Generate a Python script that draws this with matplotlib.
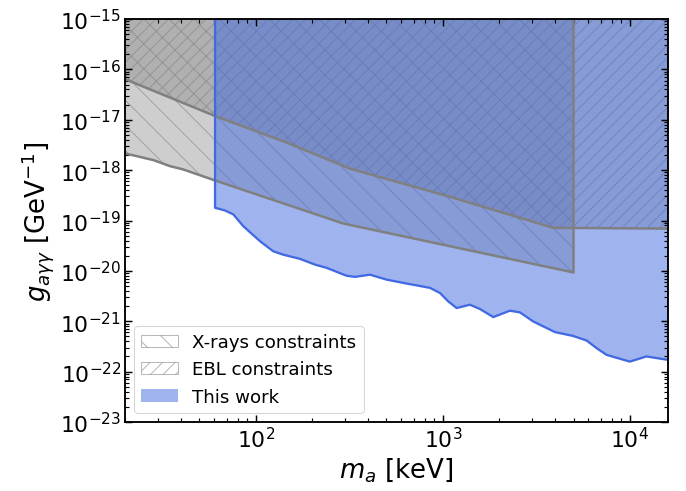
import matplotlib
matplotlib.use('Agg')
import matplotlib.pyplot as plt
from matplotlib.ticker import LogLocator, NullFormatter

# X-ray bound (lower edge of the excluded band), ends at 5000 keV
m_xray = [20, 28.4, 34.8, 41, 60.5, 294, 5000]
g_xray = [2.15e-18, 1.58e-18, 1.2e-18, 1.03e-18, 6.25e-19, 8.7e-20, 9.3e-21]

# EBL bound (lower edge), runs to the right end
m_ebl = [20, 60.5, 146.5, 319, 1092, 3890, 16000]
g_ebl = [6.4e-17, 1.19e-17, 3.52e-18, 1.07e-18, 2.96e-19, 7.16e-20, 6.9e-20]

# this work
m_this = [60.6, 68.5, 75.9, 85.8, 105.5, 124, 140, 172.5, 207.5, 239, 306, 340,
          408, 501, 641, 854, 966, 1069, 1186, 1396, 1580, 1862, 2285, 2585,
          3044, 3975, 4980, 5870, 6640, 7510, 10000, 12270, 16000]
g_this = [1.79e-19, 1.58e-19, 1.32e-19, 7.7e-20, 3.87e-20, 2.45e-20, 2.1e-20,
          1.73e-20, 1.33e-20, 1.15e-20, 8.0e-21, 7.6e-21, 8.4e-21, 6.7e-21,
          5.6e-21, 4.6e-21, 3.64e-21, 2.48e-21, 1.83e-21, 2.13e-21, 1.75e-21,
          1.21e-21, 1.62e-21, 1.5e-21, 9.9e-22, 6.1e-22, 5.1e-22, 4.15e-22,
          2.93e-22, 2.15e-22, 1.58e-22, 2.0e-22, 1.71e-22]

g_top = 1e-15
g_bottom = 1e-23
m_left, m_right = 20, 16000

fig = plt.figure(figsize=(686 / 75, 492 / 75), dpi=75)
ax = fig.add_axes([125 / 686, 1 - 423 / 492, 543 / 686, 403 / 492])

# grey shaded regions
ax.fill_between(m_xray, g_xray, g_top, facecolor='grey', alpha=0.38, lw=0)
ax.fill_between(m_ebl, g_ebl, g_top, facecolor='grey', alpha=0.38, lw=0)
ax.fill_between(m_xray, g_xray, g_top, facecolor='none', hatch='\\',
                edgecolor=(0.5, 0.5, 0.5, 0.55), lw=1, label='X-rays constraints')
ax.fill_between(m_ebl, g_ebl, g_top, facecolor='none', hatch='//',
                edgecolor=(0.5, 0.5, 0.5, 0.55), lw=1, label='EBL constraints')

# this work
ax.fill_between(m_this, g_this, g_top, facecolor='royalblue', alpha=0.5, lw=0,
                label='This work')

# boundary lines
ax.plot(m_xray + [m_xray[-1]], g_xray + [g_top], color='grey', lw=2.4)
ax.plot(m_ebl, g_ebl, color='grey', lw=2.4)
ax.plot([m_this[0]] + m_this, [g_top] + g_this, color='royalblue', lw=2.2,
        solid_joinstyle='round')

ax.set_xscale('log')
ax.set_yscale('log')
ax.set_xlim(m_left, m_right)
ax.set_ylim(g_bottom, g_top)

ax.yaxis.set_major_locator(LogLocator(base=10, numticks=20))
ax.yaxis.set_minor_locator(LogLocator(base=10, subs=range(2, 10), numticks=200))
ax.yaxis.set_minor_formatter(NullFormatter())
ax.xaxis.set_minor_locator(LogLocator(base=10, subs=range(2, 10), numticks=200))
ax.xaxis.set_minor_formatter(NullFormatter())

ax.tick_params(which='both', direction='in', top=True, right=True, labelsize=21)
ax.tick_params(which='major', length=6.7, width=1.4)
ax.tick_params(which='minor', length=3.4, width=1.1)
for s in ax.spines.values():
    s.set_linewidth(1.8)

ax.set_xlabel(r'$m_a$ [keV]', fontsize=25)
ax.set_ylabel(r'$g_{a\gamma\gamma}$ [GeV$^{-1}$]', fontsize=25)

ax.legend(loc='lower left', fontsize=17.5)

fig.savefig('out.png', dpi=75)
